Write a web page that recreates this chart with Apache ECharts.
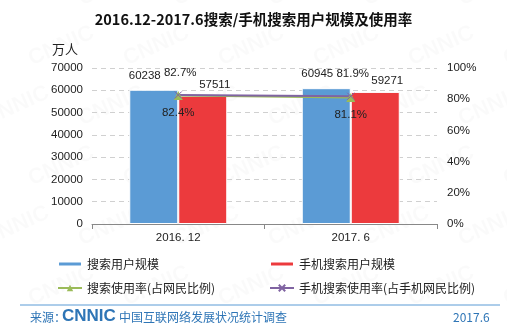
<!DOCTYPE html>
<html><head><meta charset="utf-8">
<script src="https://cdn.jsdelivr.net/npm/echarts@6/dist/echarts.min.js"></script>
<style>html,body{margin:0;padding:0;background:#fff}#c{width:507px;height:332px}</style>
</head><body><div id="c"></div>
<script>
const categories = ['2016. 12', '2017. 6'];
const searchUsers = [60238, 60945];
const mobileSearchUsers = [57511, 59271];
const searchRate = [82.4, 81.1];
const mobileSearchRate = [82.7, 81.9];
const leftTicks = [0, 10000, 20000, 30000, 40000, 50000, 60000, 70000];
const rightTicks = [0, 20, 40, 60, 80, 100];

const FONT = '"Microsoft YaHei","Noto Sans CJK SC",sans-serif';
const NUM = '"Liberation Sans",Arial,sans-serif';
const chart = echarts.init(document.getElementById('c'), null, {renderer: 'canvas'});

const wm = [];
for (let r = 0; r < 6; r++) {
  for (let c = 0; c < 6; c++) {
    wm.push({type: 'text', x: -20 + c * 95 + (r % 2) * 45, y: -10 + r * 60, rotation: Math.PI / 7.5, z: -10,
      style: {text: 'CNNIC', font: 'bold 22px Arial', fill: 'rgba(0,0,0,0.018)'}});
  }
}

chart.setOption({
  animation: false,
  textStyle: {fontFamily: FONT},
  title: {text: '2016.12-2017.6搜索/手机搜索用户规模及使用率', left: 'center', top: 7, padding: [5, 5, 5, 15],
    textStyle: {fontSize: 14.5, fontWeight: 'bold', color: '#111', fontFamily: FONT}},
  grid: {left: 92, right: 70, top: 68, bottom: 108},
  legend: [
    {data: ['搜索用户规模'], left: 52, top: 253, itemWidth: 24, itemHeight: 5, selectedMode: false, textStyle: {fontSize: 12, color: '#222'}},
    {data: ['手机搜索用户规模'], left: 264, top: 253, itemWidth: 24, itemHeight: 5, selectedMode: false, textStyle: {fontSize: 12, color: '#222'}},
    {data: ['搜索使用率(占网民比例)'], left: 52, top: 277, itemWidth: 24, itemHeight: 8, selectedMode: false, textStyle: {fontSize: 12, color: '#222'}},
    {data: ['手机搜索使用率(占手机网民比例)'], left: 264, top: 277, itemWidth: 24, itemHeight: 8, selectedMode: false, textStyle: {fontSize: 12, color: '#222'}}
  ],
  xAxis: {type: 'category', data: categories,
    axisLine: {lineStyle: {color: '#888'}}, axisTick: {show: true, length: 5, lineStyle: {color: '#888'}},
    axisLabel: {fontSize: 11.5, color: '#222', margin: 8, fontFamily: NUM}},
  yAxis: [
    {type: 'value', min: 0, max: 70000, interval: 10000,
      name: '万人', nameLocation: 'end', nameGap: 12, nameTextStyle: {fontSize: 13, color: '#222', align: 'right', padding: [0, 14, 0, 0]},
      axisLabel: {fontSize: 11.5, color: '#222', margin: 9, fontFamily: NUM, formatter: v => String(v)},
      axisLine: {show: false}, axisTick: {show: false},
      splitLine: {lineStyle: {color: '#d0d0d0', type: [5, 4]}}},
    {type: 'value', min: 0, max: 100, interval: 20,
      axisLabel: {fontSize: 11.5, color: '#222', margin: 10, fontFamily: NUM, formatter: '{value}%'},
      axisLine: {show: false}, axisTick: {show: false}, splitLine: {show: false}}
  ],
  series: [
    {name: '搜索用户规模', type: 'bar', data: searchUsers, barWidth: 49, barGap: '0%',
      itemStyle: {color: '#5B9BD5', borderColor: '#fff', borderWidth: 1},
      label: {show: true, position: 'top', distance: 8, offset: [-9, 0], fontSize: 11.5, fontFamily: NUM, color: '#222'}},
    {name: '手机搜索用户规模', type: 'bar', data: mobileSearchUsers, barWidth: 49,
      itemStyle: {color: '#EC3A3D', borderColor: '#fff', borderWidth: 1},
      label: {show: true, position: 'top', distance: 5, offset: [12, 0], fontSize: 11.5, fontFamily: NUM, color: '#222'}},
    {name: '搜索使用率(占网民比例)', type: 'line', yAxisIndex: 1, data: searchRate,
      symbol: 'triangle', symbolSize: 9, lineStyle: {color: '#9BBB59', width: 2}, itemStyle: {color: '#9BBB59'},
      label: {show: true, position: 'bottom', distance: 7, fontSize: 11.5, fontFamily: NUM, color: '#222', formatter: '{c}%'}},
    {name: '手机搜索使用率(占手机网民比例)', type: 'line', yAxisIndex: 1, data: mobileSearchRate,
      symbol: 'path://M0,0L10,10M10,0L0,10', symbolSize: 7, lineStyle: {color: '#8064A2', width: 2},
      itemStyle: {color: 'none', borderColor: '#8064A2', borderWidth: 1},
      label: {show: true, position: 'top', distance: 10, offset: [2, 0], fontSize: 11.5, fontFamily: NUM, color: '#222', formatter: '{c}%'}}
  ],
  graphic: wm.concat([
    {type: 'line', shape: {x1: 20, y1: 305, x2: 500, y2: 305}, style: {stroke: '#5B9BD5', lineWidth: 1}},
    {type: 'text', x: 30, y: 311, style: {text: '来源：', font: '12px ' + FONT, fill: '#2E75B6'}},
    {type: 'text', x: 62, y: 308, style: {text: 'CNNIC', font: 'bold 17px Arial', fill: '#2E75B6'}},
    {type: 'text', x: 119, y: 311, style: {text: '中国互联网络发展状况统计调查', font: '12px ' + FONT, fill: '#2E75B6'}},
    {type: 'text', x: 453, y: 311, style: {text: '2017.6', font: '12px ' + FONT, fill: '#2E75B6'}}
  ])
});
</script></body></html>
